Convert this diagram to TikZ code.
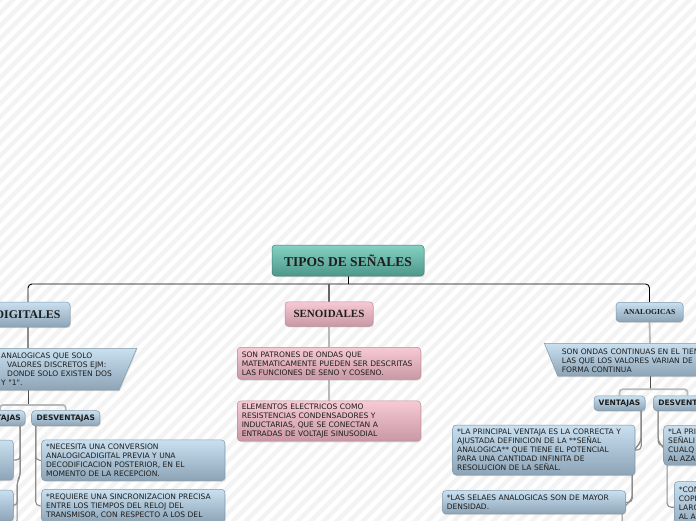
\documentclass[tikz,border=0pt]{standalone}
\usepackage{fontspec}
\newfontfamily\boxfont{DejaVu Sans}
\newfontfamily\headfont{Liberation Serif}
\usetikzlibrary{shadows}
\pgfdeclarelayer{bg}
\pgfsetlayers{bg,main}
\definecolor{bluetop}{HTML}{C9E0F1}
\definecolor{bluebot}{HTML}{8CA4B6}
\definecolor{blueline}{HTML}{7F97A8}
\definecolor{pinktop}{HTML}{F7CAD5}
\definecolor{pinkbot}{HTML}{C898A4}
\definecolor{pinkline}{HTML}{B88B97}
\definecolor{tealtop}{HTML}{84D2C3}
\definecolor{tealbot}{HTML}{4E978A}
\definecolor{tealline}{HTML}{3F8174}
\definecolor{stripecol}{HTML}{F3F3F3}
\definecolor{txt}{HTML}{1E1E1E}
\begin{document}
\begin{tikzpicture}[x=1pt,y=-1pt,
  shad/.style={drop shadow={opacity=0.25,shadow xshift=0.8pt,shadow yshift=-1.2pt}},
  boxbase/.style={rounded corners=3.5pt, line width=0.5pt, shad, text=txt, inner xsep=4.5pt, inner ysep=3pt},
  bluebox/.style={boxbase, draw=blueline, top color=bluetop, bottom color=bluebot},
  pinkbox/.style={boxbase, draw=pinkline, top color=pinktop, bottom color=pinkbot},
  tealbox/.style={boxbase, draw=tealline, top color=tealtop, bottom color=tealbot},
  txtbox/.style={font=\boxfont\fontsize{7.55}{9}\selectfont, align=left, text width=#1},
  lbl/.style={font=\boxfont\fontsize{7.5}{9}\selectfont\bfseries, align=center},
  head/.style={font=\headfont\fontsize{#1}{#1}\selectfont\bfseries},
  mainline/.style={draw=black, line width=0.9pt},
  darkline/.style={draw=black!70, line width=1pt},
  midline/.style={draw=black!45, line width=1.3pt},
  lightline/.style={draw=black!28, line width=1.8pt},
  hookline/.style={draw=black!45, line width=1.1pt, rounded corners=4pt},
]
\useasboundingbox (0,0) rectangle (696,520);

% ---------- nodes ----------
\node[tealbox, head=13.5, minimum width=152pt, minimum height=31pt] (root) at (348,260.5) {TIPOS DE SEÑALES};
\node[bluebox, head=11.8, minimum width=84pt, minimum height=25pt] (dig) at (28,314.5) {DIGITALES};
\node[pinkbox, head=11, minimum width=88pt, minimum height=24.5pt] (sen) at (329,314) {SENOIDALES};
\node[bluebox, head=7.6, minimum width=67pt, minimum height=19.5pt] (ana) at (649.5,312) {ANALOGICAS};

% senoidales
\node[pinkbox, txtbox=174.5pt, minimum height=32pt] (s1) at (329,363.3)
  {SON PATRONES DE ONDAS QUE\\MATEMATICAMENTE PUEDEN SER DESCRITAS\\LAS FUNCIONES DE SENO Y COSENO.};
\node[pinkbox, txtbox=174.5pt, minimum height=40pt] (s2) at (329,421)
  {ELEMENTOS ELECTRICOS COMO\\RESISTENCIAS CONDENSADORES Y\\INDUCTARIAS, QUE SE CONECTAN A\\ENTRADAS DE VOLTAJE SINUSODIAL};

% digitales
\path[shad, draw=blueline, line width=0.5pt, top color=bluetop, bottom color=bluebot]
  (-30,348.3) -- (136.7,348.3) -- (119,390) -- (-30,390) -- cycle;
\coordinate (ltN) at (28,348.3);
\coordinate (ltS) at (28,390);
\coordinate (lsplit) at (28,405);
\node[txtbox=130pt, anchor=north west, inner sep=0pt, text=txt] (ltt) at (1,352.6)
  {ANALOGICAS QUE SOLO\\\hspace*{6pt}VALORES DISCRETOS EJM:\\\hspace*{6pt}DONDE SOLO EXISTEN DOS\\Y "1".};
\node[bluebox, lbl, inner sep=0pt, minimum width=50pt, minimum height=15pt] (lv) at (0,418.2) {VENTAJAS};
\node[bluebox, lbl, inner sep=0pt, minimum width=68.3pt, minimum height=15pt] (ld) at (65.8,418.2) {DESVENTAJAS};
\node[bluebox, minimum width=183pt, minimum height=40pt] (lv1) at (-78.2,460) {};
\node[bluebox, minimum width=183pt, minimum height=31pt] (lv2) at (-78.2,505.5) {};
\coordinate (lvend) at (17,530);
\node[bluebox, txtbox=174.3pt, minimum height=40.7pt] (d1) at (133.3,460.3)
  {*NECESITA UNA CONVERSION\\ANALOGICADIGITAL PREVIA Y UNA\\DECODIFICACION POSTERIOR, EN EL\\MOMENTO DE LA RECEPCION.};
\node[bluebox, txtbox=174.3pt, minimum height=33pt] (d2) at (133.3,505.8)
  {*REQUIERE UNA SINCRONIZACION PRECISA\\ENTRE LOS TIEMPOS DEL RELOJ DEL\\TRANSMISOR, CON RESPECTO A LOS DEL};

% analogicas
\path[shad, draw=blueline, line width=0.5pt, top color=bluetop, bottom color=bluebot]
  (544.3,343.3) -- (720,343.3) -- (720,376) -- (557.7,376) -- cycle;
\coordinate (rtN) at (650,343.3);
\coordinate (rtS) at (650,376);
\coordinate (rsplit) at (650,389.3);
\node[txtbox=174pt, anchor=north west, inner sep=0pt, text=txt] (rtt) at (561.7,348.2)
  {SON ONDAS CONTINUAS EN EL TIEMPO EN\\LAS QUE LOS VALORES VARIAN DE\\FORMA CONTINUA};
\node[bluebox, lbl, inner sep=0pt, minimum width=51pt, minimum height=14.7pt] (rv) at (619.5,403.3) {VENTAJAS};
\node[bluebox, lbl, inner sep=0pt, minimum width=68.3pt, minimum height=14.7pt] (rd) at (687.5,403.3) {DESVENTAJAS};
\node[bluebox, txtbox=173.3pt, minimum height=50pt] (v1) at (543.8,450)
  {*LA PRINCIPAL VENTAJA ES LA CORRECTA Y\\AJUSTADA DEFINICION DE LA **SEÑAL\\ANALOGICA** QUE TIENE EL POTENCIAL\\PARA UNA CANTIDAD INFINITA DE\\RESOLUCION DE LA SEÑAL.};
\node[bluebox, txtbox=174.3pt, minimum height=23.3pt] (v2) at (534,502.3)
  {*LAS SELAES ANALOGICAS SON DE MAYOR\\DENSIDAD.};
\coordinate (rvend) at (622,530);
\node[bluebox, txtbox=174pt, minimum height=39.5pt] (rd1) at (755.2,445.3)
  {*LA PRI\\SEÑALI\\CUALQ\\AL AZA};
\node[bluebox, txtbox=174pt, minimum height=51pt] (rd2) at (765.8,507.2)
  {*COM\\COPI\\LARG\\AL AZ\\\mbox{}};

% ---------- background and connectors ----------
\begin{pgfonlayer}{bg}
  \fill[white] (-40,-40) rectangle (740,560);
  \foreach \i in {-530,-517,...,710} \draw[stripecol, line width=4.5pt] (\i,530) -- ++(540,-540);
  \coordinate (rs) at (348,284);
  \draw[mainline] (root.south) -- (rs);
  \draw[mainline, rounded corners=4pt] (dig.north) |- (rs) -| (ana.north);
  \draw[draw=black!60, line width=1.6pt] (sen.north) -- (sen.north |- rs);
  % senoidales
  \draw[lightline] (sen.south) -- (s1.north);
  \draw[lightline] (s1.south) -- (s2.north);
  % digitales
  \draw[midline] (dig.south) -- (ltN);
  \draw[darkline] (ltS) -- (lsplit);
  \draw[lightline, rounded corners=3pt] (lv.north) |- (lsplit) -| (ld.north);
  \draw[hookline] ([xshift=-5pt]lv.south east) |- (lv1.east);
  \draw[hookline] ([xshift=-5pt]lv.south east) -- ++(0,50) -- ++(-3,5) |- (lv2.east);
  \draw[hookline] ([xshift=-5pt]lv.south east) -- ++(0,50) -- ++(-3,5) -- (lvend);
  \draw[hookline] ([xshift=4.3pt]ld.south west) |- (d1.west);
  \draw[hookline] ([xshift=4.3pt]ld.south west) |- (d2.west);
  % analogicas
  \draw[lightline] (ana.south) -- (rtN);
  \draw[darkline] (rtS) -- (rsplit);
  \draw[lightline, rounded corners=3pt] (rv.north) |- (rsplit) -| (rd.north);
  \draw[hookline] ([xshift=-4pt]rv.south east) |- (v1.east);
  \draw[hookline] ([xshift=-4pt]rv.south east) -- ++(0,30) -- ++(-9,12) |- (v2.east);
  \draw[hookline] ([xshift=-4pt]rv.south east) -- ++(0,30) -- ++(-9,12) -- ++(0,46) -- ++(-10,10) -- (rvend);
  \draw[hookline] ([xshift=5pt]rd.south west) |- (rd1.west);
  \draw[hookline] ([xshift=5pt]rd.south west) -- ++(0,30) -- ++(9,12) |- (rd2.west);
\end{pgfonlayer}
\end{tikzpicture}
\end{document}
